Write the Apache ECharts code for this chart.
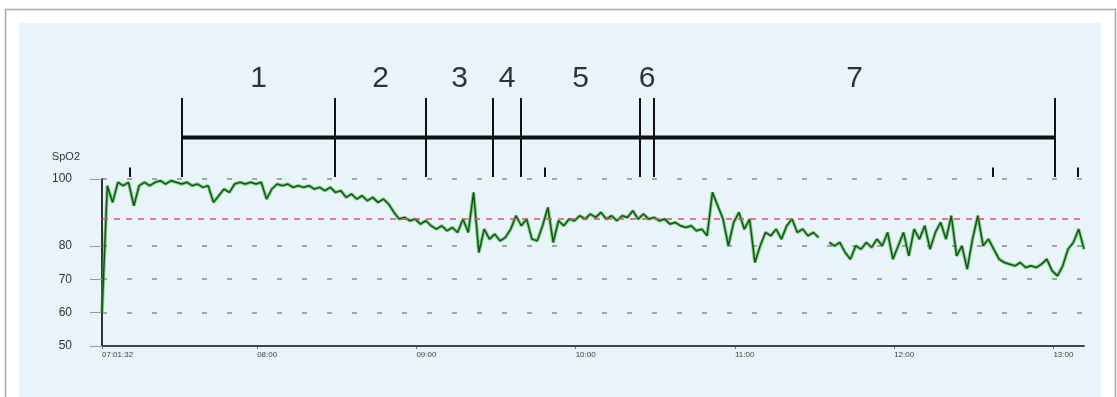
<!DOCTYPE html>
<html>
<head>
<meta charset="utf-8">
<style>
  html, body { margin: 0; padding: 0; background: #ffffff; }
  #chart { width: 1117px; height: 397px; }
</style>
<script src="https://cdn.jsdelivr.net/npm/echarts@6/dist/echarts.min.js"></script>
</head>
<body>
<div id="chart"></div>
<script>
// recording start and sampling step (seconds)
const startTime = '07:01:32';
const endTime = '13:11:32';
const sampleStep = 120;

// SpO2 readings, one every 2 minutes (null = no signal)
const spo2 = [
  60, 98, 93, 99, 98, 99, 92, 98, 99, 98,
  99, 99.5, 98.5, 99.5, 99, 98.5, 99, 98, 98.5, 97.5,
  98, 93, 95, 97, 96, 98.5, 99, 98.5, 99, 98.5,
  99, 94, 97, 98.5, 98, 98.5, 97.5, 98, 97.5, 98,
  97, 97.5, 96.5, 97.5, 96, 96.5, 94.5, 95.5, 94, 95,
  93.5, 94.5, 93, 94, 92.5, 90, 88, 88.5, 87.5, 88,
  86.5, 87.5, 86, 85, 86, 84.5, 85.5, 84, 88, 84,
  96, 78, 85, 82, 83.5, 81.5, 82.5, 85, 89, 86,
  88, 82, 81.5, 86, 91.5, 81, 87.5, 86, 88, 87.5,
  89, 88, 89.5, 88.5, 90, 88, 89, 87.5, 89, 88.5,
  90.5, 88, 89.5, 88, 88.5, 87.5, 88, 86.5, 87, 86,
  85.5, 86, 84.5, 85, 83, 96, 92, 88, 80, 87,
  90, 85, 88, 75, 80, 84, 83, 85, 82, 86,
  88, 84, 85, 83, 84, 82.5, null, 81, 80, 81,
  78, 76, 80, 79, 81, 79.5, 82, 80, 84, 76,
  80, 84, 77, 85, 82, 86, 79, 84, 87, 82,
  89, 77, 80, 73, 82, 89, 80, 82, 79, 76,
  75, 74.5, 74, 75, 73.5, 74, 73.5, 74.5, 76, 72.5,
  71, 74, 79, 81, 85, 79
];

// desaturation threshold
const threshold = 88;

// y labels (90 is not printed in the original)
const yTickValues = [50, 60, 70, 80, 100];

// time axis labels
const timeLabels = ['07:01:32', '08:00', '09:00', '10:00', '11:00', '12:00', '13:00'];

// study phases: boundaries and names
const phaseBounds = ['07:31:45', '08:29:23', '09:03:39', '09:28:53', '09:39:26', '10:24:15', '10:29:32', '13:00:34'];
const phaseNames = ['1', '2', '3', '4', '5', '6', '7'];

// small event marks above the 100 line
const eventMarks = ['07:12:10', '09:48:28', '12:37:12', '13:09:14'];

function toSec(s) {
  const p = s.split(':').map(Number);
  return p[0] * 3600 + p[1] * 60 + (p[2] || 0);
}

const t0 = toSec(startTime);
const tEnd = toSec(endTime);
const seriesData = spo2.map((v, i) => [t0 + i * sampleStep, v]);
const labelSecs = timeLabels.map(toSec);
const boundSecs = phaseBounds.map(toSec);
const phaseData = phaseNames.map((n, i) => ({
  name: n,
  value: [(boundSecs[i] + boundSecs[i + 1]) / 2, 1]
}));

const myChart = echarts.init(document.getElementById('chart'));
const option = {
  animation: false,
  graphic: [
    {
      type: 'rect', z: -10,
      shape: { x: 5.5, y: 9.5, width: 1110, height: 400 },
      style: { fill: '#ffffff', stroke: '#a8a8a8', lineWidth: 1.5 }
    },
    {
      type: 'rect', z: -9,
      shape: { x: 19, y: 23, width: 1082, height: 380 },
      style: { fill: '#e8f3fa' }
    }
  ],
  grid: [
    { left: 102, right: 33, top: 179, height: 167 },
    { left: 102, right: 33, top: 98, height: 79 }
  ],
  xAxis: [
    {
      type: 'value', gridIndex: 0, min: t0, max: tEnd,
      axisLine: { lineStyle: { color: '#444', width: 2 } },
      axisTick: { show: true, length: 3, customValues: labelSecs, lineStyle: { color: '#666' } },
      axisLabel: {
        customValues: labelSecs,
        formatter: v => timeLabels[labelSecs.indexOf(v)] || '',
        align: 'left', margin: 5, fontSize: 8, color: '#444',
        fontFamily: 'Liberation Sans'
      },
      splitLine: { show: false }
    },
    {
      type: 'value', gridIndex: 1, min: t0, max: tEnd, show: false
    }
  ],
  yAxis: [
    {
      type: 'value', gridIndex: 0, min: 50, max: 100, interval: 10,
      name: 'SpO2', nameLocation: 'end', nameGap: 22,
      nameTextStyle: { align: 'right', verticalAlign: 'middle', padding: [0, 22, 0, 0], fontSize: 11, color: '#333', fontFamily: 'Liberation Sans' },
      axisLine: { show: true, lineStyle: { color: '#333', width: 2 } },
      axisTick: { show: true, length: 12, customValues: yTickValues, lineStyle: { color: '#999' } },
      axisLabel: {
        customValues: yTickValues,
        margin: 30, fontSize: 12, color: '#333', fontFamily: 'Liberation Sans'
      },
      splitLine: { show: true, lineStyle: { color: '#8a8a8a', type: [5, 20], width: 1.5 } }
    },
    {
      type: 'value', gridIndex: 1, min: 0, max: 1, show: false
    }
  ],
  series: [
    {
      name: 'halo', type: 'line', xAxisIndex: 0, yAxisIndex: 0,
      data: seriesData, showSymbol: false, connectNulls: false,
      lineStyle: { color: 'rgba(70,175,70,0.6)', width: 3.5 },
      silent: true, z: 2
    },
    {
      name: 'SpO2', type: 'line', xAxisIndex: 0, yAxisIndex: 0,
      data: seriesData, showSymbol: false, connectNulls: false,
      lineStyle: { color: '#0d5a0d', width: 1.5 },
      z: 3,
      markLine: {
        silent: true, symbol: ['none', 'none'],
        label: { show: false },
        lineStyle: { color: '#d8506f', type: [6, 6], width: 1.5 },
        data: [{ yAxis: threshold }]
      }
    },
    {
      name: 'phases', type: 'line', xAxisIndex: 1, yAxisIndex: 1,
      data: [[boundSecs[0], 0.5], [boundSecs[boundSecs.length - 1], 0.5]],
      showSymbol: false,
      lineStyle: { color: '#111', width: 4 },
      markLine: {
        silent: true, symbol: ['none', 'none'],
        label: { show: false },
        lineStyle: { color: '#111', type: 'solid', width: 2 },
        data: boundSecs.map(t => ({ xAxis: t })).concat(
          eventMarks.map(s => [
            { coord: [toSec(s), 0] },
            { coord: [toSec(s), 0.12] }
          ])
        )
      }
    },
    {
      name: 'phaseNames', type: 'scatter', xAxisIndex: 1, yAxisIndex: 1,
      data: phaseData, symbolSize: 0, clip: false,
      label: {
        show: true, position: 'top', distance: 4,
        formatter: p => p.name,
        fontSize: 30, color: '#000', fontFamily: 'Liberation Sans'
      }
    }
  ]
};
myChart.setOption(option);
</script>
</body>
</html>
